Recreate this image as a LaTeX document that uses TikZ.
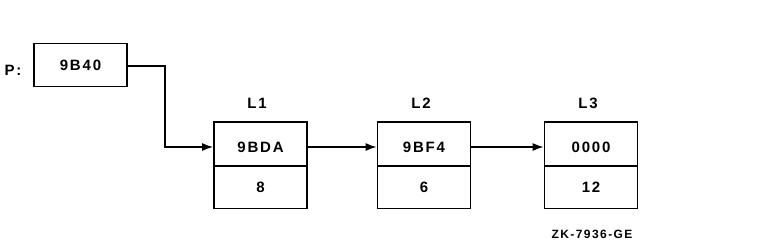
\documentclass[tikz,border=0pt]{standalone}
\usepackage{fontspec}
\setmainfont{Liberation Sans}[LetterSpace=12]
\usetikzlibrary{arrows.meta}
\begin{document}
\begin{tikzpicture}[x=1pt,y=-1pt,
  cell/.style={draw,line width=1.6pt,minimum width=93pt,minimum height=43pt,inner sep=0pt,font=\fontsize{15}{17}\selectfont\bfseries},
  lbl/.style={font=\fontsize{15}{17}\selectfont\bfseries,inner sep=0pt},
  link/.style={line width=1.6pt,-{Latex[length=11pt,width=8pt]}}]
\useasboundingbox (0,0) rectangle (767,247);
\node[cell] (p) at (80.5,65) {9B40};
\node[lbl] (plbl) at (13,70) {P:};
\node[cell,minimum height=44pt] (a1) at (260.5,144) {};
\node[cell] (b1) at (260.5,187) {8};
\node[lbl] at (260.5,147.5) {9BDA};
\node[lbl] (l1) at (257,103) {L1};
\node[cell,minimum height=44pt] (a2) at (424,144) {};
\node[cell] (b2) at (424,187) {6};
\node[lbl] at (424,147.5) {9BF4};
\node[lbl] (l2) at (421,103) {L2};
\node[cell,minimum height=44pt] (a3) at (591,144) {};
\node[cell] (b3) at (591,187) {12};
\node[lbl] at (591,147.5) {0000};
\node[lbl] (l3) at (588,103) {L3};
\node[lbl,font=\fontsize{12}{14}\selectfont\bfseries] (zk) at (592,234) {ZK-7936-GE};
\coordinate (c1) at (165,66);
\coordinate (c2) at (165,147);
\draw[link] (p.east |- c1) -- (c1) -- (c2) -- (a1.west |- c2);
\draw[link] (a1.east |- c2) -- (a2.west |- c2);
\draw[link] (a2.east |- c2) -- (a3.west |- c2);
\end{tikzpicture}
\end{document}
